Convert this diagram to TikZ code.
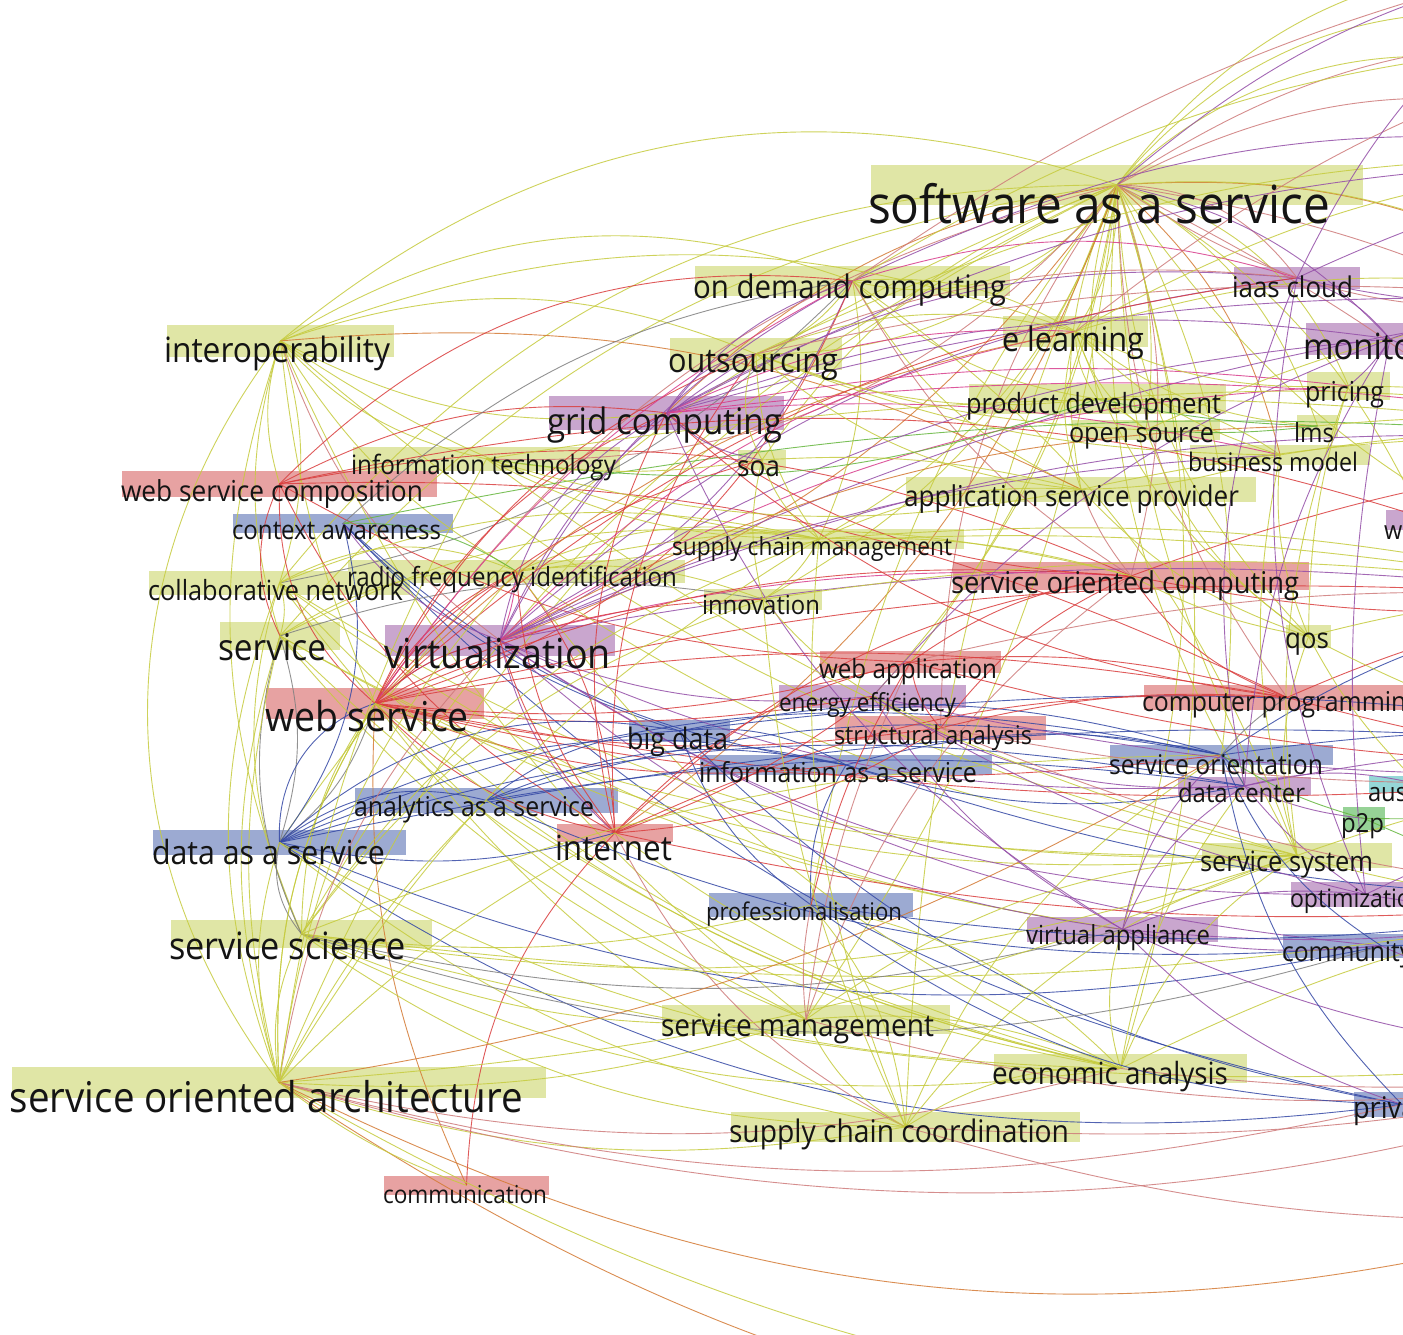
\documentclass[tikz,border=0pt]{standalone}
\usepackage{fontspec}
\setmainfont{Open Sans}[FakeStretch=0.91]
\usepackage{graphicx}
% one pixel of the layout grid
\newlength\px
\setlength\px{0.05pt}
% label boxes
\definecolor{by}{RGB}{224,230,166}
\definecolor{br}{RGB}{231,162,162}
\definecolor{bp}{RGB}{201,166,206}
\definecolor{bb}{RGB}{156,170,210}
\definecolor{bt}{RGB}{150,215,215}
\definecolor{bg}{RGB}{150,210,150}
% link colours
\definecolor{eY}{RGB}{198,203,62}
\definecolor{eR}{RGB}{218,62,62}
\definecolor{eP}{RGB}{206,122,122}
\definecolor{eU}{RGB}{148,78,168}
\definecolor{eB}{RGB}{52,72,165}
\definecolor{eG}{RGB}{128,128,128}
\definecolor{eO}{RGB}{212,122,52}
\definecolor{eM}{RGB}{216,60,140}
\definecolor{eN}{RGB}{100,182,60}

% name / box x1 / y1 / x2 / y2 / fill / text x / baseline / text width / label
\newcommand\kwlist{%
saas/871/165/1363/205/by/868/224/462/software as a service,
odc/695/266/1010/296/by/693/299/313/on demand computing,
iaas/1234/267/1360/289/bp/1232/298/121/iaas cloud,
monit/1306/323/1474/355/bp/1303/360/170/monitoring,
interop/167/325/394/357/by/164/363/226/interoperability,
elearn/1003/316/1148/347/by/1002/352/142/e learning,
outs/670/338/842/370/by/668/373/170/outsourcing,
pricing/1307/372/1390/400/by/1305/402/79/pricing,
proddev/969/384/1226/414/by/966/414/255/product development,
grid/549/396/784/430/bp/547/435/235/grid computing,
opensrc/1072/420/1220/440/by/1069/443/145/open source,
lms/1297/415/1338/437/by/1294/443/40/lms,
infotech/353/447/620/471/by/351/475/265/information technology,
soa/738/450/786/470/by/737/477/43/soa,
bizmodel/1190/445/1370/465/by/1188/472/170/business model,
wsc/122/471/437/497/br/121/502/302/web service composition,
asp/906/477/1256/502/by/904/507/335/application service provider,
wx/1386/510/1460/530/bp/1384/540/100/workflow,
ctx/233/514/453/533/bb/232/540/209/context awareness,
scm/674/529/964/549/by/672/556/280/supply chain management,
rfid/348/560/685/583/by/347/587/330/radio frequency identification,
collab/149/571/410/595/by/148/601/255/collaborative network,
soc/953/562/1309/590/br/951/594/348/service oriented computing,
innov/704/589/822/610/by/702/615/118/innovation,
service/220/622/340/650/by/218/661/108/service,
virt/385/625/615/656/bp/384/669/227/virtualization,
qos/1286/625/1331/648/by/1285/649/44/qos,
webapp/820/651/1001/673/br/819/679/178/web application,
energy/779/685/966/708/bp/779/712/177/energy efficiency,
comprog/1144/685/1430/710/br/1142/712/278/computer programming,
ws/266/688/484/719/br/265/732/204/web service,
struct/835/716/1046/740/br/834/745/198/structural analysis,
bigdata/629/720/730/742/bb/627/750/101/big data,
infoaas/700/755/992/775/bb/699/783/278/information as a service,
sorient/1110/745/1333/765/bb/1109/775/214/service orientation,
dc/1178/777/1311/795/bp/1178/803/127/data center,
aus/1369/776/1470/793/bt/1368/802/95/australia,
p2p/1343/807/1385/830/bg/1341/833/43/p2p,
analytics/355/788/618/813/bb/354/817/240/analytics as a service,
daas/153/830/406/855/bb/152/865/233/data as a service,
internet/557/824/673/842/br/555/861/117/internet,
sys/1202/843/1392/868/by/1200/872/173/service system,
optim/1291/882/1440/907/bp/1290/908/135/optimization,
prof/709/893/913/917/bb/706/921/196/professionalisation,
va/1027/917/1218/942/bp/1026/945/184/virtual appliance,
community/1283/934/1480/958/bb/1282/962/200/community cloud,
sci/171/920/432/948/by/169/960/237/service science,
smgmt/662/1005/950/1034/by/661/1037/273/service management,
econ/994/1054/1247/1083/by/992/1085/236/economic analysis,
privacy/1354/1092/1450/1117/bb/1353/1119/90/privacy,
soarch/12/1067/546/1098/by/10/1113/513/service oriented architecture,
scc/731/1112/1080/1142/by/729/1143/340/supply chain coordination,
comm/384/1176/549/1195/br/383/1204/164/communication}

% source / target / colour / bend
\newcommand\linklist{%
saas/odc/eY/20, saas/outs/eY/15, saas/grid/eO/-10, saas/elearn/eY/10, saas/proddev/eY/-8,
saas/opensrc/eY/8, saas/lms/eY/12, saas/pricing/eY/15, saas/bizmodel/eO/10, saas/asp/eY/-10,
saas/scm/eY/12, saas/soa/eY/-10, saas/infotech/eP/15, saas/soc/eP/10, saas/qos/eY/-12,
saas/sorient/eY/10, saas/sys/eY/-8, saas/econ/eY/10, saas/scc/eY/-6, saas/smgmt/eY/8,
saas/innov/eY/12, saas/virt/eO/10, saas/ws/eP/-12, saas/iaas/eP/15, saas/wx/eY/10,
saas/comprog/eP/-10, saas/webapp/eY/8, saas/r1/eY/20, saas/r2/eP/15, saas/r3/eO/10,
saas/r4/eP/8, saas/r12/eY/15, saas/r5/eY/-10, saas/collab/eY/-15, saas/service/eY/-12,
saas/sci/eY/-10, saas/va/eY/10, saas/dc/eY/-10, saas/internet/eO/10, saas/struct/eP/-10,
saas/energy/eY/10, saas/prof/eY/-8, saas/daas/eY/-10, saas/soarch/eY/-12, saas/r6/eP/8,
saas/monit/eU/10, saas/r2/eY/25, saas/r1/eP/10, saas/r12/eU/8, saas/r3/eP/-12, saas/r4/eY/16,
odc/outs/eY/10, odc/grid/eU/-10, odc/elearn/eY/10, odc/asp/eY/-10, odc/scm/eY/10,
odc/r2/eU/10, odc/iaas/eM/10, odc/virt/eU/12, odc/soc/eP/-8, odc/collab/eG/10,
odc/ws/eR/15, odc/sys/eY/10, odc/proddev/eY/-10, odc/r1/eY/8, odc/r12/eP/6,
interop/wsc/eY/-10, interop/collab/eY/10, interop/soarch/eY/-22, interop/sci/eY/-12,
interop/service/eY/-10, interop/outs/eY/12, interop/grid/eY/-10, interop/infotech/eY/-10,
interop/virt/eP/-10, interop/rfid/eY/-8, interop/scm/eY/-8, interop/ws/eY/-5,
interop/saas/eY/17, interop/odc/eY/15, interop/elearn/eY/12, interop/asp/eO/9,
interop/sys/eY/-8, interop/smgmt/eY/-8,
wsc/ws/eR/-15, wsc/soc/eR/10, wsc/comprog/eR/8, wsc/webapp/eR/-8, wsc/r5/eR/10,
wsc/grid/eR/10, wsc/odc/eR/15, wsc/internet/eR/-10, wsc/service/eR/-15,
ctx/daas/eB/15, ctx/infoaas/eB/-10, ctx/rfid/eN/10, ctx/bigdata/eB/-8, ctx/privacy/eB/-10,
ctx/virt/eU/-10, ctx/r4/eN/5, ctx/odc/eG/10,
collab/sci/eY/-12, collab/service/eY/10, collab/rfid/eY/15, collab/scm/eY/10, collab/sys/eY/-10,
collab/soarch/eY/-12, collab/econ/eY/-10, collab/smgmt/eY/-8, collab/va/eY/-8,
rfid/r5/eY/5, rfid/soc/eY/8, rfid/scm/eY/10, rfid/virt/eM/5, rfid/ws/eR/-10,
rfid/internet/eR/10, rfid/innov/eY/8, rfid/sys/eY/-8, rfid/econ/eY/-8,
service/sci/eG/-12, service/daas/eG/10, service/soarch/eY/-10, service/rfid/eY/10, service/sys/eY/-10,
service/smgmt/eY/-8, service/scm/eY/10, service/innov/eG/8, service/econ/eY/-10, service/va/eY/-6,
virt/grid/eU/15, virt/iaas/eU/10, virt/monit/eU/8, virt/va/eU/-10, virt/dc/eU/-8,
virt/energy/eU/-8, virt/optim/eU/-10, virt/r3/eU/5, virt/r4/eU/8, virt/r5/eU/5,
virt/outs/eU/10, virt/odc/eU/10, virt/internet/eU/-10, virt/ws/eU/-10, virt/community/eU/-8,
virt/soc/eM/5, virt/elearn/eM/10, virt/bizmodel/eU/6, virt/lms/eO/8, virt/pricing/eM/8,
ws/virt/eR/10, ws/rfid/eR/8, ws/grid/eR/12, ws/soc/eR/8, ws/comprog/eR/6,
ws/webapp/eR/-6, ws/internet/eR/-10, ws/innov/eR/8, ws/struct/eR/-6, ws/soa/eR/10,
ws/r5/eR/5, ws/r6/eR/-5, ws/sci/eY/-10, ws/daas/eG/10, ws/soarch/eY/-10,
ws/elearn/eO/10, ws/outs/eR/12, ws/comm/eO/-8, ws/energy/eR/-5, ws/infoaas/eR/-8,
ws/sorient/eR/-6, ws/odc/eM/8, ws/iaas/eR/10, ws/econ/eY/-8, ws/scc/eY/-8, ws/sys/eY/-6,
daas/analytics/eB/15, daas/bigdata/eB/15, daas/infoaas/eB/12, daas/sorient/eB/10,
daas/community/eB/-10, daas/privacy/eB/-12, daas/dc/eB/8, daas/r6/eB/5, daas/sci/eG/-15,
daas/soarch/eY/-10, daas/ws/eB/22, daas/internet/eB/-8, daas/econ/eY/-8, daas/scc/eY/-8,
analytics/bigdata/eB/10, analytics/infoaas/eB/10, analytics/sorient/eB/8,
analytics/community/eB/-8, analytics/dc/eB/5, analytics/econ/eY/-6,
bigdata/infoaas/eB/10, bigdata/sorient/eB/8, bigdata/r6/eB/5, bigdata/prof/eB/-10, bigdata/privacy/eB/-10,
infoaas/sorient/eB/8, infoaas/dc/eB/-8, infoaas/prof/eB/-10, infoaas/r7/eB/-5,
internet/webapp/eR/10, internet/soc/eR/10, internet/comprog/eR/8, internet/grid/eR/12,
internet/rfid/eR/10, internet/virt/eR/8, internet/outs/eR/12, internet/comm/eR/-12,
internet/struct/eR/-8, internet/energy/eR/-5, internet/r7/eR/-5, internet/scc/eP/-10, internet/econ/eY/-6,
sci/soarch/eY/-10, sci/sys/eY/-8, sci/smgmt/eY/-8, sci/econ/eY/-10, sci/scc/eY/-10,
sci/r7/eY/-5, sci/va/eG/-8, sci/innov/eY/10, sci/scm/eY/10, sci/prof/eY/-6, sci/community/eG/-10,
sci/r8/eY/-6, sci/sorient/eY/6,
soarch/ws/eY/10, soarch/virt/eP/10, soarch/rfid/eY/10, soarch/scm/eY/8, soarch/analytics/eY/5,
soarch/internet/eY/5, soarch/sys/eY/-5, soarch/econ/eP/-8, soarch/scc/eY/-8, soarch/privacy/eP/-8,
soarch/r8/eP/-10, soarch/r9/eO/-12, soarch/r10/eO/-12, soarch/r11/eY/-12, soarch/comm/eY/-5,
soarch/smgmt/eY/-6, soarch/sorient/eO/-6, soarch/service/eY/8, soarch/infotech/eY/6,
scc/smgmt/eY/10, scc/econ/eY/10, scc/sys/eY/10, scc/prof/eY/-10, scc/sorient/eY/10,
scc/r8/eP/-5, scc/r9/eP/-5, scc/scm/eY/8,
smgmt/prof/eP/5, smgmt/sys/eY/10, smgmt/econ/eY/8, smgmt/soc/eP/10, smgmt/webapp/eP/5, smgmt/r8/eP/-8,
econ/va/eY/10, econ/sys/eY/10, econ/prof/eY/-10, econ/r7/eY/5, econ/r8/eP/-5, econ/dc/eY/8,
va/dc/eU/10, va/optim/eU/8, va/community/eU/-5, va/r7/eU/-5, va/r8/eU/-8, va/sorient/eU/10,
va/grid/eU/10, va/energy/eU/8, va/privacy/eU/-8,
prof/r7/eB/-5, prof/privacy/eB/-10, prof/webapp/eR/5,
sorient/dc/eB/5, sorient/privacy/eB/-10, sorient/community/eB/-10, sorient/r6/eB/5,
sorient/r5/eB/8, sorient/comprog/eG/5,
dc/optim/eU/-5, dc/r6/eU/5, dc/aus/eU/8, dc/p2p/eU/-5, dc/energy/eU/10, dc/iaas/eU/10,
sys/r6/eY/5, sys/r7/eY/-5, sys/qos/eY/10, sys/pricing/eY/8, sys/bizmodel/eY/8,
comprog/soc/eR/10, comprog/webapp/eR/-6, comprog/r5/eR/5, comprog/r6/eR/-5, comprog/grid/eR/10,
comprog/struct/eR/-5,
soc/webapp/eR/-8, soc/r4/eR/5, soc/r5/eR/-5, soc/struct/eR/-8, soc/qos/eY/-5, soc/grid/eR/10, soc/asp/eP/5,
webapp/struct/eR/-10, webapp/r5/eP/5, webapp/r6/eR/-5,
struct/r6/eP/-5, struct/r7/eP/-5,
energy/r6/eU/-5, energy/optim/eU/-5, energy/monit/eU/8,
grid/iaas/eU/10, grid/monit/eU/8, grid/r3/eU/5, grid/outs/eU/15, grid/elearn/eM/8,
grid/pricing/eM/5, grid/bizmodel/eM/5, grid/soa/eU/-10, grid/r4/eM/5, grid/r2/eU/8,
outs/asp/eY/-10, outs/elearn/eY/10, outs/proddev/eY/-8, outs/scm/eY/-10, outs/bizmodel/eY/-6,
outs/soa/eY/-15, outs/iaas/eP/8, outs/r3/eP/5, outs/opensrc/eY/-5, outs/r2/eY/8,
elearn/lms/eY/-10, elearn/opensrc/eY/-10, elearn/proddev/eY/-10, elearn/asp/eY/-10,
elearn/bizmodel/eY/-8, elearn/r3/eY/8, elearn/qos/eY/-10, elearn/pricing/eY/-8, elearn/r2/eY/8, elearn/r1/eP/6,
proddev/opensrc/eY/5, proddev/bizmodel/eY/10, proddev/infotech/eN/8, proddev/r4/eY/5, proddev/lms/eN/-3,
asp/r4/eY/5, asp/bizmodel/eY/-5, asp/qos/eY/-8, asp/scm/eY/-8, asp/infotech/eY/8, asp/soa/eY/-5,
opensrc/lms/eN/-3, opensrc/r3/eY/5, opensrc/qos/eY/-10,
iaas/monit/eU/10, iaas/r2/eU/5, iaas/r3/eU/-5, iaas/optim/eU/-10, iaas/r12/eU/8,
monit/r3/eU/5, monit/r4/eU/-5, monit/optim/eU/-5, monit/dc/eU/-8, monit/pricing/eU/5,
pricing/r4/eY/5, pricing/qos/eY/-5, lms/r4/eY/5, bizmodel/r4/eY/5, bizmodel/qos/eY/-8,
qos/r5/eY/5, qos/r6/eY/-8, qos/aus/eY/-5,
scm/innov/eY/8, scm/r5/eY/5, scm/soc/eY/5,
soa/innov/eY/-8, soa/scm/eY/-10, soa/infotech/eY/5,
infotech/scm/eY/-8, infotech/r4/eY/5, infotech/sys/eY/-6,
innov/r5/eY/5, innov/struct/eY/-8, innov/scc/eY/-6,
p2p/r6/eN/-5, p2p/r7/eN/-5, p2p/sorient/eN/5, aus/r5/eY/5,
optim/r7/eU/-5, optim/r6/eU/5, community/r7/eB/-5, community/r8/eU/-5,
privacy/r8/eB/-5, privacy/r7/eG/-5, wx/r4/eU/5, wx/r5/eU/-5}

\begin{document}
\begin{tikzpicture}[x=\px,y=-\px,
    link/.style={line width=0.9\px, opacity=0.85},
    kwtext/.style={anchor=base west, inner sep=0pt, outer sep=0pt, text=black!92}]
\useasboundingbox (0,0) rectangle (1403,1335);
\clip (0,0) rectangle (1403,1335);
\fill[white] (0,0) rectangle (1403,1335);

% keyword boxes and their link points
\foreach \nm/\xa/\ya/\xb/\yb/\col/\tx/\ty/\w/\txt in \kwlist {
  \fill[\col] (\xa,\ya) rectangle (\xb,\yb);
  \coordinate (\nm) at ({(\xa+\xb)/2},{(\ya+\yb)/2});
}

% link ends lying right of the visible area
\coordinate (r1) at (1620,40);
\coordinate (r2) at (1700,160);
\coordinate (r3) at (1600,300);
\coordinate (r4) at (1750,450);
\coordinate (r5) at (1650,600);
\coordinate (r6) at (1800,760);
\coordinate (r7) at (1650,900);
\coordinate (r8) at (1750,1050);
\coordinate (r9) at (1600,1220);
\coordinate (r10) at (1700,1420);
\coordinate (r11) at (1900,1350);
\coordinate (r12) at (1560,-40);

% co-occurrence links, drawn as arcs
\foreach \a/\b/\col/\bnd in \linklist {
  \pgfmathsetmacro\arcbend{1.7*\bnd}
  \draw[link,\col] (\a) to[bend left=\arcbend] (\b);
}

% keyword labels
\foreach \nm/\xa/\ya/\xb/\yb/\col/\tx/\ty/\w/\txt in \kwlist {
  \node[kwtext] (\nm-t) at (\tx,\ty) {\resizebox{\w\px}{!}{\txt}};
}
\end{tikzpicture}
\end{document}
